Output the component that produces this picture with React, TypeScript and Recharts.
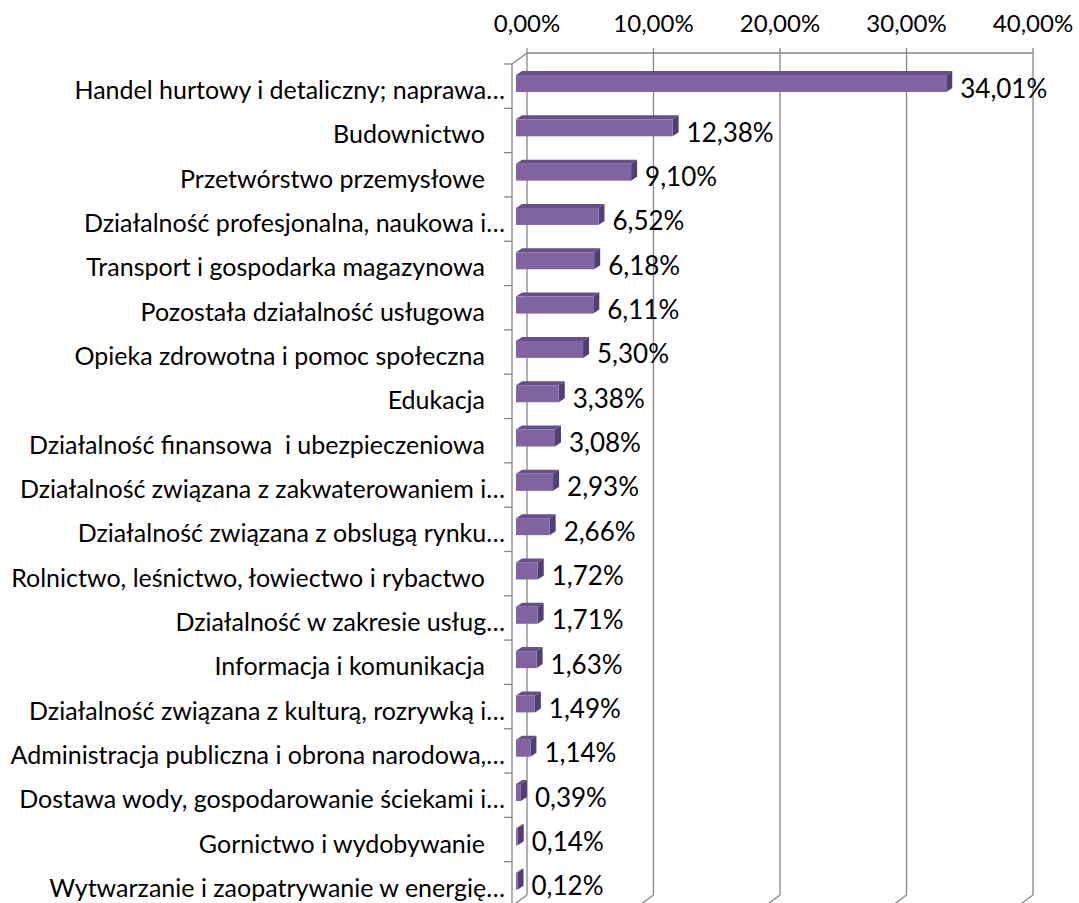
import { BarChart, Bar, XAxis, YAxis, CartesianGrid, LabelList } from "recharts";

const CATEGORIES = [
  "Handel hurtowy i detaliczny; naprawa…",
  "Budownictwo ",
  "Przetwórstwo przemysłowe ",
  "Działalność profesjonalna, naukowa i…",
  "Transport i gospodarka magazynowa ",
  "Pozostała działalność usługowa ",
  "Opieka zdrowotna i pomoc społeczna ",
  "Edukacja ",
  "Działalność finansowa  i ubezpieczeniowa ",
  "Działalność związana z zakwaterowaniem i…",
  "Działalność związana z obslugą rynku…",
  "Rolnictwo, leśnictwo, łowiectwo i rybactwo ",
  "Działalność w zakresie usług…",
  "Informacja i komunikacja ",
  "Działalność związana z kulturą, rozrywką i…",
  "Administracja publiczna i obrona narodowa,…",
  "Dostawa wody, gospodarowanie ściekami i…",
  "Gornictwo i wydobywanie ",
  "Wytwarzanie i zaopatrywanie w energię…",
];

const SHARES = [
  34.01, 12.38, 9.1, 6.52, 6.18, 6.11, 5.3, 3.38, 3.08, 2.93, 2.66, 1.72, 1.71,
  1.63, 1.49, 1.14, 0.39, 0.14, 0.12,
];

const X_TICKS = [0, 10, 20, 30, 40];

const data = CATEGORIES.map((name, i) => ({ name, value: SHARES[i] }));

// layout
const WIDTH = 1079;
const HEIGHT = 910;
const MARGIN = { top: 24, right: 61, bottom: 4, left: 0 };
const X_AXIS_H = 40;
const Y_AXIS_W = 512;
const PLOT_H = HEIGHT - MARGIN.top - X_AXIS_H - MARGIN.bottom;
const BAND = PLOT_H / CATEGORIES.length;

// 3d depth of the walls and of the bars
const DEPTH_X = 15;
const DEPTH_Y = 11;
const BAR_DX = 6;
const BAR_DY = 4;

const GRID = "#868686";
const FONT = "Lato, 'Open Sans', sans-serif";

const pct = (v: number) => v.toFixed(2).replace(".", ",") + "%";

function Bar3D(props: any) {
  const { x, y, width, height } = props;
  const fx = x + 4;
  const fy = y - 3;
  const w = Math.max(width, 0);
  return (
    <g>
      <polygon
        points={`${fx},${fy} ${fx + BAR_DX},${fy - BAR_DY} ${fx + w + BAR_DX},${fy - BAR_DY} ${fx + w},${fy}`}
        fill="#654f8a"
      />
      <polygon
        points={`${fx + w},${fy} ${fx + w + BAR_DX},${fy - BAR_DY} ${fx + w + BAR_DX},${fy + height - BAR_DY} ${fx + w},${fy + height}`}
        fill="#513f72"
      />
      <rect x={fx} y={fy} width={w} height={height} fill="#8064a2" />
    </g>
  );
}

function GridLine(props: any) {
  const { x1, y1, y2, index, x, width } = props;
  const bx = x1 + DEPTH_X;
  const top = y1 - DEPTH_Y;
  const bottom = y2 - DEPTH_Y;
  return (
    <g key={`grid-${index}`} stroke={GRID} strokeWidth={1.3} fill="none">
      <line x1={bx} y1={top - 5} x2={bx} y2={bottom} />
      <line x1={bx} y1={bottom} x2={x1} y2={y2} />
      {index === 0 && (
        <>
          <line x1={bx} y1={top} x2={x + width + DEPTH_X} y2={top} />
          <line x1={x1} y1={y1} x2={bx} y2={top} />
          <line x1={x1} y1={y1} x2={x1} y2={y2 + 10} />
        </>
      )}
    </g>
  );
}

function CategoryTick(props: any) {
  const { x, y, payload, index } = props;
  const last = index === CATEGORIES.length - 1;
  const label: string = payload.value;
  // labels that end with a space sit a bit further from the axis
  const padded = label.endsWith(" ");
  return (
    <g>
      <text
        x={padded ? x - 27 : x - 7}
        y={y + 3}
        textAnchor="end"
        dominantBaseline="central"
        fontSize={25}
        fontFamily={FONT}
        fill="#000"
        style={{ whiteSpace: "pre" }}
      >
        {padded ? label.trimEnd() : label}
      </text>
      <line x1={x - 8} y1={y - BAND / 2} x2={x} y2={y - BAND / 2} stroke={GRID} strokeWidth={1.3} />
      {last && (
        <line x1={x - 8} y1={y + BAND / 2} x2={x} y2={y + BAND / 2} stroke={GRID} strokeWidth={1.3} />
      )}
    </g>
  );
}

function ValueTick(props: any) {
  const { x, y, payload } = props;
  return (
    <text
      x={x + DEPTH_X}
      y={y - 42}
      textAnchor="middle"
      dominantBaseline="central"
      fontSize={24}
      fontFamily={FONT}
      fill="#000"
    >
      {pct(payload.value)}
    </text>
  );
}

function ValueLabel(props: any) {
  const { x, y, width, height, value } = props;
  return (
    <text
      x={x + width + 18}
      y={y + height / 2 + 1}
      dominantBaseline="central"
      fontSize={26}
      fontFamily={FONT}
      fill="#000"
    >
      {pct(value)}
    </text>
  );
}

export default function App() {
  return (
    <div
      style={{
        position: "fixed",
        top: 0,
        left: 0,
        width: 1079,
        height: 903,
        overflow: "hidden",
        background: "#fff",
      }}
    >
      <BarChart width={WIDTH} height={HEIGHT} data={data} layout="vertical" margin={MARGIN}>
        <CartesianGrid horizontal={false} vertical={GridLine} />
        <XAxis
          type="number"
          orientation="top"
          domain={[0, 40]}
          ticks={X_TICKS}
          height={X_AXIS_H}
          axisLine={false}
          tickLine={false}
          tickSize={0}
          tickMargin={0}
          tick={ValueTick}
        />
        <YAxis
          type="category"
          dataKey="name"
          width={Y_AXIS_W}
          axisLine={false}
          tickLine={false}
          tickSize={0}
          tickMargin={0}
          interval={0}
          tick={CategoryTick}
        />
        <Bar dataKey="value" barSize={17} shape={Bar3D} isAnimationActive={false}>
          <LabelList dataKey="value" content={ValueLabel} />
        </Bar>
      </BarChart>
    </div>
  );
}
